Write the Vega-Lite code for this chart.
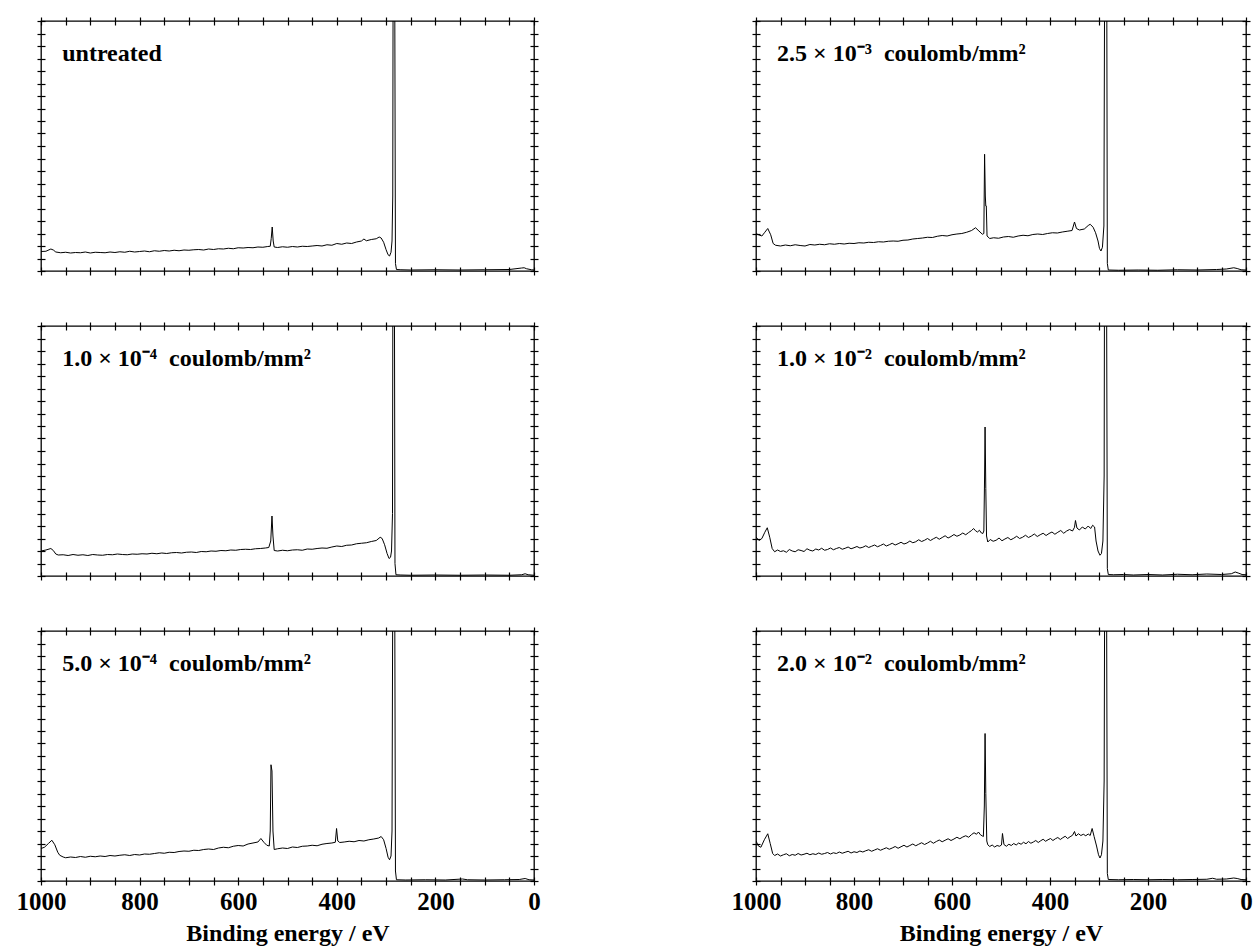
{
  "$schema": "https://vega.github.io/schema/vega-lite/v6.json",
  "background": "white",
  "padding": {"top": 15, "left": 15, "right": 0, "bottom": 0},
  "config": {
    "view": {"stroke": "black", "strokeWidth": 1.3},
    "axis": {
      "domain": false, "grid": false, "ticks": true, "tickColor": "black", "tickWidth": 1.2,
      "tickSize": 8, "offset": -4,
      "labelFont": "Liberation Serif", "labelFontWeight": "bold", "labelFontSize": 25, "labelColor": "black",
      "titleFont": "Liberation Serif", "titleFontWeight": "bold", "titleFontSize": 24, "titleColor": "black"
    },
    "text": {"font": "Liberation Serif", "fontWeight": "bold", "fontSize": 24, "color": "black", "align": "left", "baseline": "alphabetic"},
    "line": {"color": "black", "strokeWidth": 1}
  },
  "datasets": {
    "a": [
      {"e":1000,"i":7.8},{"e":990,"i":7.9},{"e":980,"i":8.8},{"e":975,"i":8.4},{"e":970,"i":7.6},{"e":960,"i":7.3},{"e":950,"i":7.5},{"e":940,"i":7.2},{"e":930,"i":7.4},{"e":920,"i":7.3},{"e":910,"i":7.6},{"e":900,"i":7.2},{"e":890,"i":7.5},{"e":880,"i":7.4},{"e":870,"i":7.3},{"e":860,"i":7.6},{"e":850,"i":7.4},{"e":840,"i":7.7},{"e":830,"i":7.5},{"e":820,"i":7.9},{"e":810,"i":7.6},{"e":800,"i":7.8},{"e":790,"i":8.0},{"e":780,"i":7.7},{"e":770,"i":8.1},{"e":760,"i":7.9},{"e":750,"i":8.2},{"e":740,"i":8.0},{"e":730,"i":8.3},{"e":720,"i":8.1},{"e":710,"i":8.4},{"e":700,"i":8.3},{"e":690,"i":8.5},{"e":680,"i":8.6},{"e":670,"i":8.4},{"e":660,"i":8.8},{"e":650,"i":8.6},{"e":640,"i":8.9},{"e":630,"i":8.8},{"e":620,"i":9.1},{"e":610,"i":8.9},{"e":600,"i":9.3},{"e":590,"i":9.2},{"e":580,"i":9.4},{"e":570,"i":9.3},{"e":560,"i":9.6},{"e":550,"i":9.5},{"e":540,"i":9.8},{"e":535,"i":9.9},{"e":533,"i":13},{"e":531,"i":17.6},{"e":529,"i":12},{"e":527,"i":9.6},{"e":520,"i":9.4},{"e":510,"i":9.7},{"e":500,"i":9.5},{"e":490,"i":9.8},{"e":480,"i":9.6},{"e":470,"i":9.9},{"e":460,"i":9.8},{"e":450,"i":10.0},{"e":440,"i":10.2},{"e":430,"i":10.0},{"e":420,"i":10.5},{"e":410,"i":10.3},{"e":400,"i":11.0},{"e":390,"i":10.7},{"e":380,"i":11.2},{"e":370,"i":11.0},{"e":360,"i":11.6},{"e":350,"i":12.0},{"e":345,"i":12.8},{"e":340,"i":12.1},{"e":330,"i":12.6},{"e":320,"i":12.9},{"e":314,"i":13.6},{"e":310,"i":13.2},{"e":305,"i":11.5},{"e":300,"i":8.5},{"e":296,"i":6.5},{"e":293,"i":6.0},{"e":290,"i":7.5},{"e":288,"i":12},{"e":286.5,"i":30},{"e":285.5,"i":150},{"e":283,"i":150},{"e":281,"i":3},{"e":279,"i":0.6},{"e":270,"i":0.5},{"e":250,"i":0.4},{"e":200,"i":0.5},{"e":150,"i":0.4},{"e":100,"i":0.5},{"e":50,"i":0.6},{"e":25,"i":1.2},{"e":20,"i":1.3},{"e":15,"i":0.9},{"e":5,"i":0.5},{"e":0,"i":0.4}
    ],
    "b": [
      {"e":1000,"i":10.0},{"e":990,"i":10.4},{"e":980,"i":11.0},{"e":975,"i":10.2},{"e":970,"i":8.8},{"e":965,"i":8.4},{"e":955,"i":8.5},{"e":945,"i":8.2},{"e":935,"i":8.6},{"e":925,"i":8.3},{"e":915,"i":8.5},{"e":905,"i":8.2},{"e":895,"i":8.6},{"e":885,"i":8.4},{"e":875,"i":8.3},{"e":865,"i":8.6},{"e":855,"i":8.5},{"e":845,"i":8.8},{"e":835,"i":8.6},{"e":825,"i":8.5},{"e":815,"i":8.8},{"e":805,"i":8.7},{"e":795,"i":8.9},{"e":785,"i":8.8},{"e":775,"i":9.1},{"e":765,"i":8.9},{"e":755,"i":9.2},{"e":745,"i":9.0},{"e":735,"i":9.3},{"e":725,"i":9.4},{"e":715,"i":9.2},{"e":705,"i":9.5},{"e":695,"i":9.6},{"e":685,"i":9.4},{"e":675,"i":9.8},{"e":665,"i":9.7},{"e":655,"i":10.0},{"e":645,"i":9.9},{"e":635,"i":10.2},{"e":625,"i":10.1},{"e":615,"i":10.4},{"e":605,"i":10.3},{"e":595,"i":10.6},{"e":585,"i":10.7},{"e":575,"i":10.6},{"e":565,"i":10.9},{"e":555,"i":11.0},{"e":545,"i":11.2},{"e":538,"i":11.4},{"e":534,"i":14},{"e":531.5,"i":24},{"e":529.5,"i":16},{"e":527,"i":10.2},{"e":520,"i":10.0},{"e":510,"i":10.3},{"e":500,"i":10.1},{"e":490,"i":10.4},{"e":480,"i":10.5},{"e":470,"i":10.3},{"e":460,"i":10.8},{"e":450,"i":10.7},{"e":440,"i":11.0},{"e":430,"i":11.2},{"e":420,"i":11.1},{"e":410,"i":11.6},{"e":400,"i":12.0},{"e":390,"i":11.8},{"e":380,"i":12.3},{"e":370,"i":12.4},{"e":360,"i":12.9},{"e":350,"i":13.1},{"e":340,"i":13.3},{"e":330,"i":13.8},{"e":320,"i":14.2},{"e":312,"i":15.5},{"e":308,"i":15.0},{"e":303,"i":12.5},{"e":298,"i":9.0},{"e":294,"i":7.0},{"e":291,"i":7.5},{"e":289,"i":10},{"e":287,"i":25},{"e":286,"i":150},{"e":283.5,"i":150},{"e":282,"i":5},{"e":280,"i":0.5},{"e":270,"i":0.4},{"e":250,"i":0.3},{"e":200,"i":0.4},{"e":150,"i":0.3},{"e":100,"i":0.4},{"e":50,"i":0.3},{"e":25,"i":0.5},{"e":18,"i":0.9},{"e":12,"i":0.5},{"e":0,"i":0.3}
    ],
    "c": [
      {"e":1000,"i":13.0},{"e":993,"i":13.5},{"e":985,"i":15.0},{"e":978,"i":16.3},{"e":972,"i":14.5},{"e":966,"i":11.5},{"e":962,"i":10.3},{"e":955,"i":9.6},{"e":950,"i":9.3},{"e":940,"i":9.6},{"e":930,"i":9.4},{"e":920,"i":9.8},{"e":910,"i":9.5},{"e":900,"i":9.9},{"e":890,"i":9.7},{"e":880,"i":10.0},{"e":870,"i":9.8},{"e":860,"i":10.2},{"e":850,"i":10.0},{"e":840,"i":10.3},{"e":830,"i":10.5},{"e":820,"i":10.2},{"e":810,"i":10.6},{"e":800,"i":10.4},{"e":790,"i":10.8},{"e":780,"i":10.7},{"e":770,"i":11.0},{"e":760,"i":11.3},{"e":750,"i":11.1},{"e":740,"i":11.5},{"e":730,"i":11.4},{"e":720,"i":11.8},{"e":710,"i":12.0},{"e":700,"i":11.9},{"e":690,"i":12.3},{"e":680,"i":12.2},{"e":670,"i":12.6},{"e":660,"i":12.8},{"e":650,"i":12.6},{"e":640,"i":13.2},{"e":630,"i":13.5},{"e":620,"i":13.3},{"e":610,"i":13.9},{"e":600,"i":14.2},{"e":590,"i":14.0},{"e":580,"i":14.8},{"e":570,"i":15.2},{"e":560,"i":15.6},{"e":554,"i":17.0},{"e":548,"i":15.5},{"e":542,"i":14.3},{"e":537,"i":14.0},{"e":535,"i":20},{"e":533.5,"i":46.5},{"e":531.5,"i":44},{"e":529.5,"i":20},{"e":527,"i":12.6},{"e":520,"i":12.9},{"e":510,"i":13.2},{"e":500,"i":13.0},{"e":490,"i":13.6},{"e":480,"i":13.4},{"e":470,"i":13.9},{"e":460,"i":14.0},{"e":450,"i":14.3},{"e":440,"i":14.1},{"e":430,"i":14.7},{"e":420,"i":15.0},{"e":410,"i":15.2},{"e":403,"i":15.5},{"e":400.5,"i":21},{"e":398,"i":16},{"e":394,"i":15.4},{"e":385,"i":15.6},{"e":375,"i":15.9},{"e":365,"i":15.7},{"e":355,"i":16.2},{"e":345,"i":16.0},{"e":335,"i":16.5},{"e":325,"i":16.8},{"e":315,"i":17.2},{"e":310,"i":17.8},{"e":305,"i":16.5},{"e":300,"i":13},{"e":296,"i":9.5},{"e":293,"i":8.5},{"e":290,"i":10},{"e":288,"i":20},{"e":286,"i":150},{"e":283,"i":150},{"e":281,"i":4},{"e":279,"i":0.5},{"e":260,"i":0.4},{"e":220,"i":0.5},{"e":180,"i":0.4},{"e":145,"i":0.8},{"e":135,"i":0.5},{"e":100,"i":0.4},{"e":60,"i":0.5},{"e":30,"i":0.6},{"e":18,"i":1.0},{"e":10,"i":0.5},{"e":0,"i":0.4}
    ],
    "d": [
      {"e":1000,"i":15.0},{"e":995,"i":14.5},{"e":988,"i":14.0},{"e":982,"i":15.5},{"e":976,"i":17.0},{"e":970,"i":14.5},{"e":965,"i":11.0},{"e":960,"i":10.3},{"e":950,"i":10.0},{"e":940,"i":10.4},{"e":930,"i":10.1},{"e":920,"i":10.5},{"e":910,"i":10.2},{"e":900,"i":10.0},{"e":890,"i":10.6},{"e":880,"i":10.4},{"e":870,"i":10.7},{"e":860,"i":10.5},{"e":850,"i":10.9},{"e":840,"i":10.7},{"e":830,"i":11.0},{"e":820,"i":10.8},{"e":810,"i":11.1},{"e":800,"i":11.0},{"e":790,"i":11.3},{"e":780,"i":11.2},{"e":770,"i":11.5},{"e":760,"i":11.4},{"e":750,"i":11.7},{"e":740,"i":11.6},{"e":730,"i":11.9},{"e":720,"i":12.0},{"e":710,"i":11.9},{"e":700,"i":12.3},{"e":690,"i":12.4},{"e":680,"i":12.8},{"e":670,"i":13.0},{"e":660,"i":13.2},{"e":650,"i":13.5},{"e":640,"i":13.4},{"e":630,"i":13.9},{"e":620,"i":14.2},{"e":610,"i":14.0},{"e":600,"i":14.5},{"e":590,"i":14.8},{"e":580,"i":15.0},{"e":570,"i":15.5},{"e":560,"i":16.2},{"e":552,"i":17.3},{"e":545,"i":16.0},{"e":538,"i":14.7},{"e":535,"i":15},{"e":533.5,"i":46.7},{"e":532,"i":30},{"e":531,"i":26},{"e":530,"i":26},{"e":528.5,"i":14},{"e":523,"i":13.0},{"e":515,"i":13.3},{"e":505,"i":13.1},{"e":495,"i":13.6},{"e":485,"i":13.8},{"e":475,"i":13.5},{"e":465,"i":14.0},{"e":455,"i":14.3},{"e":445,"i":14.1},{"e":435,"i":14.6},{"e":425,"i":14.8},{"e":415,"i":14.6},{"e":405,"i":15.0},{"e":395,"i":15.3},{"e":385,"i":15.2},{"e":375,"i":15.6},{"e":365,"i":15.9},{"e":355,"i":16.2},{"e":350,"i":19.6},{"e":346,"i":17},{"e":340,"i":16.4},{"e":330,"i":16.8},{"e":322,"i":18.2},{"e":318,"i":18.7},{"e":312,"i":17.5},{"e":307,"i":15.3},{"e":302,"i":12},{"e":299,"i":9},{"e":296,"i":8.0},{"e":293,"i":9.5},{"e":290,"i":18},{"e":288,"i":150},{"e":284.5,"i":150},{"e":283,"i":3},{"e":281,"i":0.4},{"e":260,"i":0.3},{"e":220,"i":0.4},{"e":180,"i":0.3},{"e":140,"i":0.5},{"e":100,"i":0.4},{"e":60,"i":0.6},{"e":40,"i":0.8},{"e":25,"i":1.3},{"e":18,"i":1.0},{"e":10,"i":0.5},{"e":0,"i":0.4}
    ],
    "e": [
      {"e":1000,"i":15.6},{"e":994,"i":14.2},{"e":988,"i":15.0},{"e":982,"i":17.5},{"e":977,"i":19.3},{"e":972,"i":15.5},{"e":967,"i":11.0},{"e":962,"i":9.7},{"e":956,"i":10.4},{"e":950,"i":9.8},{"e":944,"i":10.1},{"e":938,"i":9.5},{"e":932,"i":10.6},{"e":926,"i":10.0},{"e":920,"i":9.7},{"e":914,"i":10.5},{"e":908,"i":10.2},{"e":902,"i":9.8},{"e":896,"i":10.9},{"e":890,"i":10.3},{"e":884,"i":10.0},{"e":878,"i":10.8},{"e":872,"i":10.4},{"e":866,"i":11.1},{"e":860,"i":10.3},{"e":854,"i":10.6},{"e":848,"i":11.2},{"e":842,"i":10.5},{"e":836,"i":11.0},{"e":830,"i":11.4},{"e":824,"i":10.7},{"e":818,"i":11.1},{"e":812,"i":11.6},{"e":806,"i":10.9},{"e":800,"i":11.3},{"e":794,"i":11.8},{"e":788,"i":11.2},{"e":782,"i":11.5},{"e":776,"i":12.1},{"e":770,"i":11.4},{"e":764,"i":11.9},{"e":758,"i":12.4},{"e":752,"i":11.7},{"e":746,"i":12.2},{"e":740,"i":12.8},{"e":734,"i":12.0},{"e":728,"i":12.5},{"e":722,"i":13.1},{"e":716,"i":12.4},{"e":710,"i":12.9},{"e":704,"i":13.5},{"e":698,"i":12.8},{"e":692,"i":13.2},{"e":686,"i":14.0},{"e":680,"i":13.3},{"e":674,"i":13.7},{"e":668,"i":14.5},{"e":662,"i":13.8},{"e":656,"i":14.3},{"e":650,"i":15.0},{"e":644,"i":14.2},{"e":638,"i":14.9},{"e":632,"i":15.5},{"e":626,"i":14.7},{"e":620,"i":15.4},{"e":614,"i":16.1},{"e":608,"i":15.2},{"e":602,"i":15.8},{"e":596,"i":16.6},{"e":590,"i":15.9},{"e":584,"i":16.4},{"e":578,"i":17.2},{"e":572,"i":16.5},{"e":566,"i":17.4},{"e":560,"i":18.2},{"e":556,"i":19.0},{"e":552,"i":18.1},{"e":548,"i":17.6},{"e":544,"i":18.3},{"e":540,"i":17.2},{"e":537,"i":17.0},{"e":535,"i":18},{"e":533.5,"i":40},{"e":532.5,"i":59.6},{"e":531,"i":35},{"e":529.5,"i":16},{"e":527,"i":13.6},{"e":522,"i":14.6},{"e":516,"i":13.9},{"e":510,"i":14.3},{"e":504,"i":15.2},{"e":498,"i":14.1},{"e":492,"i":14.8},{"e":486,"i":15.4},{"e":480,"i":14.5},{"e":474,"i":15.1},{"e":468,"i":15.9},{"e":462,"i":15.0},{"e":456,"i":15.5},{"e":450,"i":16.3},{"e":444,"i":15.4},{"e":438,"i":16.0},{"e":432,"i":16.8},{"e":426,"i":15.8},{"e":420,"i":16.5},{"e":414,"i":17.1},{"e":408,"i":16.2},{"e":402,"i":17.0},{"e":396,"i":17.6},{"e":390,"i":16.7},{"e":384,"i":17.5},{"e":378,"i":18.2},{"e":372,"i":17.1},{"e":366,"i":18.0},{"e":360,"i":18.6},{"e":354,"i":18.0},{"e":350,"i":19.5},{"e":348,"i":22.2},{"e":345,"i":19.2},{"e":340,"i":18.4},{"e":334,"i":19.6},{"e":328,"i":18.8},{"e":322,"i":20.0},{"e":317,"i":19.0},{"e":313,"i":20.3},{"e":309,"i":19.6},{"e":306,"i":14},{"e":302,"i":10},{"e":298,"i":8.3},{"e":295,"i":9},{"e":292,"i":14},{"e":289.5,"i":40},{"e":288.5,"i":150},{"e":285,"i":150},{"e":283,"i":3},{"e":281,"i":0.6},{"e":270,"i":0.5},{"e":250,"i":0.6},{"e":230,"i":0.4},{"e":200,"i":0.6},{"e":170,"i":0.4},{"e":140,"i":0.7},{"e":110,"i":0.5},{"e":80,"i":0.8},{"e":50,"i":0.6},{"e":30,"i":0.9},{"e":22,"i":1.6},{"e":16,"i":1.2},{"e":8,"i":0.6},{"e":0,"i":0.5}
    ],
    "f": [
      {"e":1000,"i":16.0},{"e":995,"i":14.0},{"e":990,"i":13.5},{"e":983,"i":16.5},{"e":976,"i":18.9},{"e":971,"i":15.0},{"e":966,"i":11.0},{"e":962,"i":10.2},{"e":956,"i":10.8},{"e":950,"i":10.0},{"e":944,"i":10.5},{"e":938,"i":10.9},{"e":932,"i":10.1},{"e":926,"i":10.6},{"e":920,"i":10.3},{"e":914,"i":11.0},{"e":908,"i":10.4},{"e":902,"i":10.7},{"e":896,"i":11.1},{"e":890,"i":10.5},{"e":884,"i":10.9},{"e":878,"i":10.6},{"e":872,"i":11.2},{"e":866,"i":10.7},{"e":860,"i":11.0},{"e":854,"i":11.4},{"e":848,"i":10.8},{"e":842,"i":11.3},{"e":836,"i":11.0},{"e":830,"i":11.6},{"e":824,"i":11.1},{"e":818,"i":11.5},{"e":812,"i":11.9},{"e":806,"i":11.2},{"e":800,"i":11.7},{"e":794,"i":11.4},{"e":788,"i":12.0},{"e":782,"i":11.6},{"e":776,"i":12.1},{"e":770,"i":12.5},{"e":764,"i":11.9},{"e":758,"i":12.4},{"e":752,"i":12.9},{"e":746,"i":12.3},{"e":740,"i":12.8},{"e":734,"i":13.3},{"e":728,"i":12.7},{"e":722,"i":13.2},{"e":716,"i":13.8},{"e":710,"i":13.1},{"e":704,"i":13.7},{"e":698,"i":14.3},{"e":692,"i":13.6},{"e":686,"i":14.2},{"e":680,"i":14.8},{"e":674,"i":14.1},{"e":668,"i":14.7},{"e":662,"i":15.3},{"e":656,"i":14.6},{"e":650,"i":15.2},{"e":644,"i":15.9},{"e":638,"i":15.1},{"e":632,"i":15.8},{"e":626,"i":16.4},{"e":620,"i":15.7},{"e":614,"i":16.3},{"e":608,"i":16.9},{"e":602,"i":16.2},{"e":596,"i":16.8},{"e":590,"i":17.5},{"e":584,"i":16.9},{"e":578,"i":17.6},{"e":572,"i":18.1},{"e":566,"i":17.5},{"e":560,"i":18.6},{"e":555,"i":19.3},{"e":550,"i":18.7},{"e":546,"i":19.6},{"e":542,"i":18.5},{"e":538,"i":18.0},{"e":536,"i":17.8},{"e":534,"i":30},{"e":532.5,"i":59},{"e":531,"i":35},{"e":529,"i":16},{"e":527,"i":14.5},{"e":523,"i":13.8},{"e":518,"i":14.4},{"e":513,"i":13.6},{"e":508,"i":14.2},{"e":503,"i":13.9},{"e":499,"i":14.4},{"e":497,"i":19},{"e":494,"i":14.6},{"e":489,"i":13.9},{"e":484,"i":14.7},{"e":479,"i":14.2},{"e":474,"i":15.0},{"e":469,"i":14.4},{"e":464,"i":15.2},{"e":459,"i":14.7},{"e":454,"i":15.5},{"e":449,"i":14.9},{"e":444,"i":15.8},{"e":439,"i":15.1},{"e":434,"i":15.6},{"e":429,"i":16.2},{"e":424,"i":15.4},{"e":419,"i":16.1},{"e":414,"i":16.7},{"e":409,"i":15.9},{"e":404,"i":16.5},{"e":399,"i":17.0},{"e":394,"i":16.2},{"e":389,"i":16.9},{"e":384,"i":17.4},{"e":379,"i":16.6},{"e":374,"i":17.3},{"e":369,"i":17.9},{"e":364,"i":17.0},{"e":359,"i":17.7},{"e":354,"i":18.3},{"e":350,"i":19.8},{"e":347,"i":18.0},{"e":342,"i":18.9},{"e":337,"i":18.2},{"e":332,"i":18.7},{"e":327,"i":18.1},{"e":322,"i":18.8},{"e":318,"i":18.2},{"e":314,"i":21},{"e":310,"i":17.8},{"e":305,"i":14},{"e":301,"i":10.5},{"e":298,"i":9.2},{"e":295,"i":10.5},{"e":292,"i":16},{"e":289.5,"i":40},{"e":288,"i":150},{"e":285,"i":150},{"e":283,"i":3},{"e":281,"i":0.6},{"e":260,"i":0.5},{"e":230,"i":0.6},{"e":200,"i":0.5},{"e":170,"i":0.6},{"e":140,"i":0.5},{"e":110,"i":0.6},{"e":80,"i":0.7},{"e":68,"i":1.1},{"e":60,"i":0.7},{"e":40,"i":0.8},{"e":25,"i":1.2},{"e":18,"i":1.0},{"e":10,"i":0.6},{"e":0,"i":0.5}
    ]
  },
  "hconcat": [
    {
      "vconcat": [
        {
          "width": 493, "height": 250,
          "layer": [
            {"data": {"name": "a"}, "mark": {"type": "line", "clip": true},
             "encoding": {
               "x": {"field": "e", "type": "quantitative", "scale": {"domain": [0, 1000], "reverse": true, "nice": false, "zero": false},
                     "axis": {"orient": "bottom", "values": [0,50,100,150,200,250,300,350,400,450,500,550,600,650,700,750,800,850,900,950,1000], "labels": false, "title": null}},
               "y": {"field": "i", "type": "quantitative", "scale": {"domain": [0, 100], "nice": false},
                     "axis": {"orient": "left", "values": [0,5,10,15,20,25,30,35,40,45,50,55,60,65,70,75,80,85,90,95,100], "labels": false, "title": null}}}},
            {"data": {"values": [{"label": "untreated"}]}, "mark": {"type": "text"},
             "encoding": {
               "x": {"datum": 957, "type": "quantitative", "axis": {"orient": "top", "values": [0,50,100,150,200,250,300,350,400,450,500,550,600,650,700,750,800,850,900,950,1000], "labels": false, "title": null}},
               "y": {"datum": 84, "type": "quantitative", "axis": {"orient": "right", "values": [0,5,10,15,20,25,30,35,40,45,50,55,60,65,70,75,80,85,90,95,100], "labels": false, "title": null}},
               "text": {"field": "label"}}}
          ],
          "resolve": {"axis": {"x": "independent", "y": "independent"}}
        },
        {
          "width": 493, "height": 250,
          "layer": [
            {"data": {"name": "b"}, "mark": {"type": "line", "clip": true},
             "encoding": {
               "x": {"field": "e", "type": "quantitative", "scale": {"domain": [0, 1000], "reverse": true, "nice": false, "zero": false},
                     "axis": {"orient": "bottom", "values": [0,50,100,150,200,250,300,350,400,450,500,550,600,650,700,750,800,850,900,950,1000], "labels": false, "title": null}},
               "y": {"field": "i", "type": "quantitative", "scale": {"domain": [0, 100], "nice": false},
                     "axis": {"orient": "left", "values": [0,5,10,15,20,25,30,35,40,45,50,55,60,65,70,75,80,85,90,95,100], "labels": false, "title": null}}}},
            {"data": {"values": [{"label": "1.0 × 10⁻⁴\u00a0 coulomb/mm²"}]}, "mark": {"type": "text"},
             "encoding": {
               "x": {"datum": 957, "type": "quantitative", "axis": {"orient": "top", "values": [0,50,100,150,200,250,300,350,400,450,500,550,600,650,700,750,800,850,900,950,1000], "labels": false, "title": null}},
               "y": {"datum": 84, "type": "quantitative", "axis": {"orient": "right", "values": [0,5,10,15,20,25,30,35,40,45,50,55,60,65,70,75,80,85,90,95,100], "labels": false, "title": null}},
               "text": {"field": "label"}}}
          ],
          "resolve": {"axis": {"x": "independent", "y": "independent"}}
        },
        {
          "width": 493, "height": 250,
          "layer": [
            {"data": {"name": "c"}, "mark": {"type": "line", "clip": true},
             "encoding": {
               "x": {"field": "e", "type": "quantitative", "scale": {"domain": [0, 1000], "reverse": true, "nice": false, "zero": false},
                     "axis": {"orient": "bottom", "values": [0,50,100,150,200,250,300,350,400,450,500,550,600,650,700,750,800,850,900,950,1000], "format": "d", "labelExpr": "datum.value % 200 === 0 ? datum.label : ''", "labelOverlap": false, "labelFlush": false, "labelPadding": 4, "title": "Binding energy / eV", "titlePadding": 7}},
               "y": {"field": "i", "type": "quantitative", "scale": {"domain": [0, 100], "nice": false},
                     "axis": {"orient": "left", "values": [0,5,10,15,20,25,30,35,40,45,50,55,60,65,70,75,80,85,90,95,100], "labels": false, "title": null}}}},
            {"data": {"values": [{"label": "5.0 × 10⁻⁴\u00a0 coulomb/mm²"}]}, "mark": {"type": "text"},
             "encoding": {
               "x": {"datum": 957, "type": "quantitative", "axis": {"orient": "top", "values": [0,50,100,150,200,250,300,350,400,450,500,550,600,650,700,750,800,850,900,950,1000], "labels": false, "title": null}},
               "y": {"datum": 84, "type": "quantitative", "axis": {"orient": "right", "values": [0,5,10,15,20,25,30,35,40,45,50,55,60,65,70,75,80,85,90,95,100], "labels": false, "title": null}},
               "text": {"field": "label"}}}
          ],
          "resolve": {"axis": {"x": "independent", "y": "independent"}}
        }
      ],
      "spacing": 55, "bounds": "flush"
    },
    {
      "vconcat": [
        {
          "width": 490, "height": 250,
          "layer": [
            {"data": {"name": "d"}, "mark": {"type": "line", "clip": true},
             "encoding": {
               "x": {"field": "e", "type": "quantitative", "scale": {"domain": [0, 1000], "reverse": true, "nice": false, "zero": false},
                     "axis": {"orient": "bottom", "values": [0,50,100,150,200,250,300,350,400,450,500,550,600,650,700,750,800,850,900,950,1000], "labels": false, "title": null}},
               "y": {"field": "i", "type": "quantitative", "scale": {"domain": [0, 100], "nice": false},
                     "axis": {"orient": "left", "values": [0,5,10,15,20,25,30,35,40,45,50,55,60,65,70,75,80,85,90,95,100], "labels": false, "title": null}}}},
            {"data": {"values": [{"label": "2.5 × 10⁻³\u00a0 coulomb/mm²"}]}, "mark": {"type": "text"},
             "encoding": {
               "x": {"datum": 957, "type": "quantitative", "axis": {"orient": "top", "values": [0,50,100,150,200,250,300,350,400,450,500,550,600,650,700,750,800,850,900,950,1000], "labels": false, "title": null}},
               "y": {"datum": 84, "type": "quantitative", "axis": {"orient": "right", "values": [0,5,10,15,20,25,30,35,40,45,50,55,60,65,70,75,80,85,90,95,100], "labels": false, "title": null}},
               "text": {"field": "label"}}}
          ],
          "resolve": {"axis": {"x": "independent", "y": "independent"}}
        },
        {
          "width": 490, "height": 250,
          "layer": [
            {"data": {"name": "e"}, "mark": {"type": "line", "clip": true},
             "encoding": {
               "x": {"field": "e", "type": "quantitative", "scale": {"domain": [0, 1000], "reverse": true, "nice": false, "zero": false},
                     "axis": {"orient": "bottom", "values": [0,50,100,150,200,250,300,350,400,450,500,550,600,650,700,750,800,850,900,950,1000], "labels": false, "title": null}},
               "y": {"field": "i", "type": "quantitative", "scale": {"domain": [0, 100], "nice": false},
                     "axis": {"orient": "left", "values": [0,5,10,15,20,25,30,35,40,45,50,55,60,65,70,75,80,85,90,95,100], "labels": false, "title": null}}}},
            {"data": {"values": [{"label": "1.0 × 10⁻²\u00a0 coulomb/mm²"}]}, "mark": {"type": "text"},
             "encoding": {
               "x": {"datum": 957, "type": "quantitative", "axis": {"orient": "top", "values": [0,50,100,150,200,250,300,350,400,450,500,550,600,650,700,750,800,850,900,950,1000], "labels": false, "title": null}},
               "y": {"datum": 84, "type": "quantitative", "axis": {"orient": "right", "values": [0,5,10,15,20,25,30,35,40,45,50,55,60,65,70,75,80,85,90,95,100], "labels": false, "title": null}},
               "text": {"field": "label"}}}
          ],
          "resolve": {"axis": {"x": "independent", "y": "independent"}}
        },
        {
          "width": 490, "height": 250,
          "layer": [
            {"data": {"name": "f"}, "mark": {"type": "line", "clip": true},
             "encoding": {
               "x": {"field": "e", "type": "quantitative", "scale": {"domain": [0, 1000], "reverse": true, "nice": false, "zero": false},
                     "axis": {"orient": "bottom", "values": [0,50,100,150,200,250,300,350,400,450,500,550,600,650,700,750,800,850,900,950,1000], "format": "d", "labelExpr": "datum.value % 200 === 0 ? datum.label : ''", "labelOverlap": false, "labelFlush": false, "labelPadding": 4, "title": "Binding energy / eV", "titlePadding": 7}},
               "y": {"field": "i", "type": "quantitative", "scale": {"domain": [0, 100], "nice": false},
                     "axis": {"orient": "left", "values": [0,5,10,15,20,25,30,35,40,45,50,55,60,65,70,75,80,85,90,95,100], "labels": false, "title": null}}}},
            {"data": {"values": [{"label": "2.0 × 10⁻²\u00a0 coulomb/mm²"}]}, "mark": {"type": "text"},
             "encoding": {
               "x": {"datum": 957, "type": "quantitative", "axis": {"orient": "top", "values": [0,50,100,150,200,250,300,350,400,450,500,550,600,650,700,750,800,850,900,950,1000], "labels": false, "title": null}},
               "y": {"datum": 84, "type": "quantitative", "axis": {"orient": "right", "values": [0,5,10,15,20,25,30,35,40,45,50,55,60,65,70,75,80,85,90,95,100], "labels": false, "title": null}},
               "text": {"field": "label"}}}
          ],
          "resolve": {"axis": {"x": "independent", "y": "independent"}}
        }
      ],
      "spacing": 55, "bounds": "flush"
    }
  ],
  "spacing": 189
}
